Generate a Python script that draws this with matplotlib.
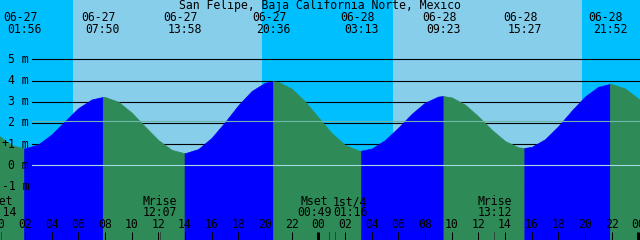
import numpy as np
import matplotlib.pyplot as plt
from matplotlib.transforms import blended_transform_factory

title = "San Felipe, Baja California Norte, Mexico"

# high / low tide events
tide_dates = ["06-27", "06-27", "06-27", "06-27", "06-28", "06-28", "06-28", "06-28"]
tide_times = ["01:56", "07:50", "13:58", "20:36", "03:13", "09:23", "15:27", "21:52"]
tide_heights = [0.80, 3.23, 0.57, 3.97, 0.69, 3.27, 0.82, 3.84]

# water level, every hour from 06-27 00:00
hourly_level = [1.42, 0.95, 0.80, 0.99, 1.46, 2.09, 2.70, 3.11, 3.23, 3.00,
                2.49, 1.83, 1.19, 0.73, 0.57, 0.77, 1.30, 2.04, 2.84, 3.51,
                3.90, 3.94, 3.62, 3.02, 2.26, 1.52, 0.96, 0.70, 0.79, 1.19,
                1.78, 2.43, 2.96, 3.25, 3.21, 2.87, 2.31, 1.68, 1.15, 0.85,
                0.87, 1.23, 1.85, 2.58, 3.25, 3.71, 3.84, 3.63, 3.15, 2.48]

# daylight
day_dates = ["06-27", "06-28"]
sunrise = ["05:36", "05:36"]
sunset = ["19:46", "19:46"]

# moon events
moon_dates = ["06-27", "06-27", "06-28", "06-28", "06-28"]
moon_times = ["00:14", "12:07", "00:49", "01:16", "13:12"]
moon_labels = ["Mset", "Mrise", "Mset", "1st/4", "Mrise"]

y_levels = [5, 4, 3, 2, 1, 0, -1]
mean_level = 2.11

# chart window, hours after 06-27 00:00
t_start, t_end = 0.125, 48.125
y_min, y_max = -3.53, 7.81

SKY_DAY = "#87CEEB"
SKY_NIGHT = "#00BFFF"
RISING = "#0000FF"
FALLING = "#2E8B57"
FONT = "DejaVu Sans Mono"
FS = 8.3
PX = 0.72  # one pixel in points at dpi 100


def hours(date, time):
    day = int(date[3:]) - 27
    hh, mm = time.split(":")
    return day * 24 + int(hh) + int(mm) / 60


fig = plt.figure(figsize=(6.4, 2.4), dpi=100)
ax = fig.add_axes([0, 0, 1, 1])
ax.set_xlim(t_start, t_end)
ax.set_ylim(y_min, y_max)
ax.axis("off")

# x in hours, y in figure fraction
tr = blended_transform_factory(ax.transData, fig.transFigure)
tr_y = blended_transform_factory(ax.transAxes, ax.transData)
px_per_hr = 640 / (t_end - t_start)


def fy(p):
    # pixels from the top -> figure fraction
    return 1 - p / 240


# sky: night everywhere, daylight spans on top
ax.axvspan(-10, 60, color=SKY_NIGHT, lw=0, zorder=0)
for d, r, s in zip(day_dates, sunrise, sunset):
    ax.axvspan(hours(d, r), hours(d, s), color=SKY_DAY, lw=0, zorder=0)

# grid lines behind the water
for lv in y_levels:
    ax.axhline(lv, xmin=32 / 640, xmax=1, color="black", lw=0.8, zorder=1)
    ax.text(29 / 640, lv, f"{lv} m", transform=tr_y, ha="right", va="center",
            family=FONT, fontsize=FS, zorder=5)
ax.text(4.5 / 640, 1.05, "+", transform=tr_y, ha="center", va="center",
        family=FONT, fontsize=FS, zorder=5)

# water
ev_t = np.array([hours(d, t) for d, t in zip(tide_dates, tide_times)])
ev_h = np.array(tide_heights)
t_all = np.concatenate([np.arange(len(hourly_level)), ev_t])
h_all = np.concatenate([hourly_level, ev_h])
order = np.argsort(t_all)
t_all, h_all = t_all[order], h_all[order]

bounds = [-1.0] + list(ev_t) + [60.0]
for i in range(len(bounds) - 1):
    m = (t_all >= bounds[i]) & (t_all <= bounds[i + 1])
    if i < len(ev_h):
        rising = ev_h[i] > mean_level
    else:
        rising = ev_h[-1] < mean_level
    col = RISING if rising else FALLING
    ax.fill_between(t_all[m], h_all[m], y_min, color=col, lw=0.5,
                    edgecolor=col, zorder=2)

ax.axhline(0, xmin=32 / 640, xmax=1, color="#a6d8e6", lw=0.8, zorder=3)
ax.axhline(mean_level, xmin=32 / 640, xmax=1, color="#6fb6aa", lw=0.8, zorder=3)

# title and tide labels
fig.text(0.5, fy(6), title, ha="center", va="center", family=FONT, fontsize=FS)
for d, t, x in zip(tide_dates, tide_times, ev_t):
    ax.text(x - 4 / px_per_hr, fy(17.3), d, transform=tr, ha="center",
            va="center", family=FONT, fontsize=FS, zorder=5)
    ax.text(x, fy(29.7), t, transform=tr, ha="center", va="center",
            family=FONT, fontsize=FS, zorder=5)

# moon events
moon_shift = [-2, 0, -15, 15, 0]
for d, t, lab, sh in zip(moon_dates, moon_times, moon_labels, moon_shift):
    x = hours(d, t)
    ax.plot([x, x], [0, fy(232)], transform=tr, color="#2b4a3a", lw=PX,
            zorder=4)
    xs = x + sh / px_per_hr
    ax.text(xs, fy(201.7), lab, transform=tr, ha="center", va="center",
            family=FONT, fontsize=FS, zorder=5)
    ax.text(xs, fy(213), t, transform=tr, ha="center", va="center",
            family=FONT, fontsize=FS, zorder=5)

# hour ticks and labels
for h in range(0, 49, 2):
    thick = h % 24 == 0
    ax.plot([h, h], [0, fy(232)], transform=tr, color="black",
            lw=3 * PX if thick else PX, zorder=4, solid_capstyle="butt")
    ax.text(h, fy(225), f"{h % 24:02d}", transform=tr, ha="center",
            va="center", family=FONT, fontsize=FS, zorder=5)

fig.savefig("out.png", dpi=100)
